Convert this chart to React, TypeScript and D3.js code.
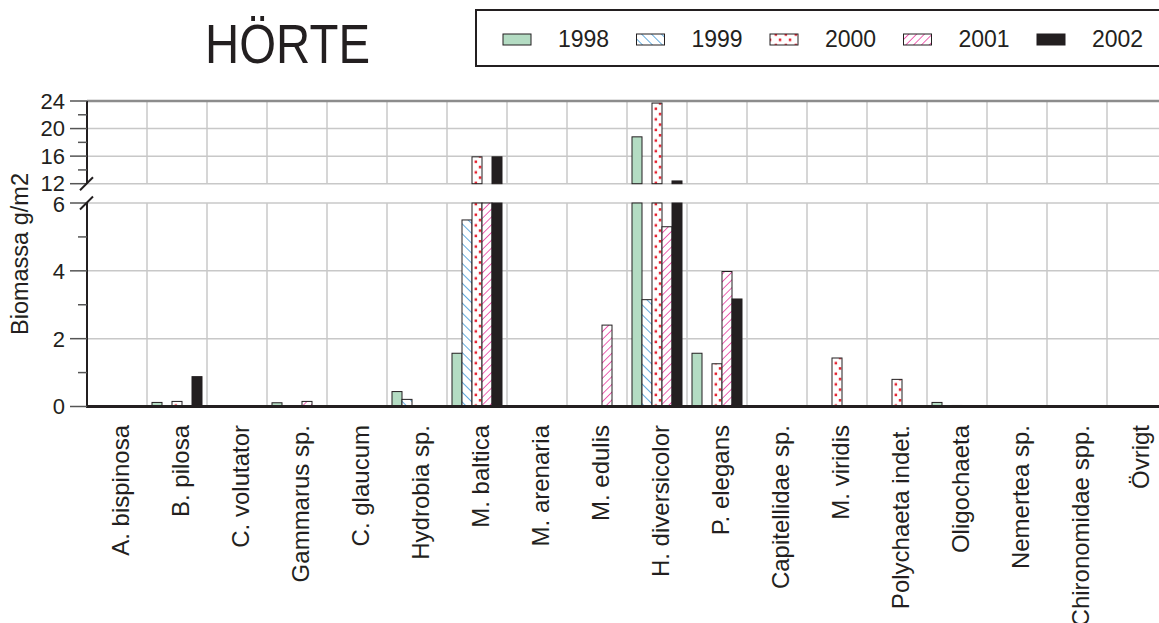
import React from "react";
import * as d3 from "d3";

const categories = [
  "A. bispinosa", "B. pilosa", "C. volutator", "Gammarus sp.", "C. glaucum",
  "Hydrobia sp.", "M. baltica", "M. arenaria", "M. edulis", "H. diversicolor",
  "P. elegans", "Capitellidae sp.", "M. viridis", "Polychaeta indet.",
  "Oligochaeta", "Nemertea sp.", "Chironomidae spp.", "Övrigt",
];
const years = ["1998", "1999", "2000", "2001", "2002"];
const v1998 = [0, 0.12, 0, 0.11, 0, 0.44, 1.57, 0, 0, 18.8, 1.57, 0, 0, 0, 0.12, 0, 0.02, 0];
const v1999 = [0, 0, 0, 0, 0, 0.21, 5.5, 0, 0, 3.15, 0, 0, 0, 0, 0, 0, 0, 0];
const v2000 = [0, 0.15, 0, 0, 0, 0, 15.9, 0, 0, 23.7, 1.26, 0, 1.43, 0.8, 0.03, 0, 0, 0];
const v2001 = [0, 0, 0, 0.15, 0, 0, 9, 0, 2.4, 5.3, 3.98, 0, 0, 0, 0, 0.02, 0, 0];
const v2002 = [0, 0.88, 0, 0, 0, 0, 15.9, 0, 0, 12.4, 3.17, 0.02, 0, 0, 0, 0, 0, 0];
const series = [v1998, v1999, v2000, v2001, v2002];
const lowerTicks = [0, 2, 4, 6];
const lowerMinor = [1, 3, 5];
const upperTicks = [12, 16, 20, 24];
const upperMinor = [14, 18, 22];
const title = "HÖRTE";
const yTitle = "Biomassa g/m2";

const W = 1159, H = 623;
const FONT = "Arial, Helvetica, 'Liberation Sans', 'Nimbus Sans', sans-serif";
const INK = "#231f20";
const GRID = "#c8c8c8";
const fills = ["#b4dcc3", "url(#p1999)", "url(#p2000)", "url(#p2001)", INK];

export default function App() {
  const x = d3.scaleBand<string>().domain(categories).range([87, 87 + 60 * categories.length]).padding(0);
  const xi = d3.scaleBand<string>().domain(years).range([5, 55]).padding(0);
  const yLow = d3.scaleLinear().domain([0, 6]).range([406.5, 203]);
  const yUp = d3.scaleLinear().domain([12, 24]).range([183.7, 101]);
  const left = 87;
  const right = W;

  const bars: React.ReactNode[] = [];
  series.forEach((vals, si) => {
    vals.forEach((v, ci) => {
      if (v <= 0) return;
      const bx = (x(categories[ci]) as number) + (xi(years[si]) as number);
      const bw = xi.bandwidth();
      const lowTop = yLow(Math.min(v, 6));
      bars.push(
        <rect key={`l${si}-${ci}`} x={bx} y={lowTop} width={bw} height={yLow(0) - lowTop}
          fill={fills[si]} stroke={INK} strokeWidth={1} />
      );
      if (v > 12) {
        const t = yUp(Math.min(v, 24));
        bars.push(
          <rect key={`u${si}-${ci}`} x={bx} y={t} width={bw} height={yUp(12) - t}
            fill={fills[si]} stroke={INK} strokeWidth={1} />
        );
      }
    });
  });

  const legendX0 = 503;
  const legendStep = 133.5;

  return (
    <svg width={W} height={H} style={{ position: "absolute", left: 0, top: 0, background: "#fff" }}
      fontFamily={FONT}>
      <defs>
        <pattern id="p1999" patternUnits="userSpaceOnUse" width={7} height={7} patternTransform="rotate(-45)">
          <rect width={7} height={7} fill="#fff" />
          <line x1={0} y1={0} x2={0} y2={7} stroke="#2f8fd4" strokeWidth={1.5} />
        </pattern>
        <pattern id="p2001" patternUnits="userSpaceOnUse" width={5.5} height={5.5} patternTransform="rotate(45)">
          <rect width={5.5} height={5.5} fill="#fff" />
          <line x1={0} y1={0} x2={0} y2={5.5} stroke="#e8309a" strokeWidth={1.5} />
        </pattern>
        <pattern id="p2000" patternUnits="userSpaceOnUse" x={2} y={0} width={10} height={10.6}>
          <rect width={10} height={10.6} fill="#fff" />
          <rect x={2.6} y={1.5} width={2.5} height={2.5} fill="#e5202e" />
          <rect x={6.8} y={6.8} width={2.5} height={2.5} fill="#e5202e" />
        </pattern>
      </defs>

      {/* title */}
      <text x={205} y={63} fontSize={56} fill={INK} textLength={165} lengthAdjust="spacingAndGlyphs">{title}</text>

      {/* legend */}
      <rect x={476} y={10} width={W} height={56} fill="#fff" stroke={INK} strokeWidth={2} />
      {years.map((yr, i) => (
        <g key={yr} transform={`translate(${legendX0 + i * legendStep},0)`}>
          <rect x={0} y={34} width={28} height={11} fill={fills[i]} stroke={INK} strokeWidth={1} />
          <text x={55} y={47} fontSize={23} fill={INK}>{yr}</text>
        </g>
      ))}

      {/* horizontal gridlines */}
      {upperTicks.filter(t => t !== 24).map(t => (
        <line key={`gu${t}`} x1={left} x2={right} y1={yUp(t)} y2={yUp(t)} stroke={GRID} strokeWidth={1.5} />
      ))}
      {lowerTicks.filter(t => t !== 0).map(t => (
        <line key={`gl${t}`} x1={left} x2={right} y1={yLow(t)} y2={yLow(t)} stroke={GRID} strokeWidth={1.5} />
      ))}
      {/* vertical gridlines */}
      {categories.slice(1).map(c => (
        <g key={`v${c}`}>
          <line x1={x(c)} x2={x(c)} y1={yUp(24)} y2={yUp(12)} stroke={GRID} strokeWidth={1.5} />
          <line x1={x(c)} x2={x(c)} y1={yLow(6)} y2={yLow(0)} stroke={GRID} strokeWidth={1.5} />
        </g>
      ))}
      <line x1={left} x2={right} y1={yUp(24)} y2={yUp(24)} stroke="#8c8c8c" strokeWidth={2.5} />

      {bars}

      {/* baseline */}
      <line x1={left - 1} x2={right} y1={yLow(0)} y2={yLow(0)} stroke={INK} strokeWidth={3} />

      {/* y axis */}
      <line x1={left} x2={left} y1={yUp(24)} y2={yUp(12)} stroke={INK} strokeWidth={2} />
      <line x1={left} x2={left} y1={yLow(6)} y2={yLow(0)} stroke={INK} strokeWidth={2} />
      {upperTicks.map(t => (
        <g key={`tu${t}`}>
          <line x1={70} x2={left} y1={yUp(t)} y2={yUp(t)} stroke="#555" strokeWidth={1.5} />
          <text x={65} y={yUp(t) - (t === 12 ? 1 : 0)} dy="0.36em" textAnchor="end" fontSize={22} fill={INK}>{t}</text>
        </g>
      ))}
      {upperMinor.map(t => (
        <line key={`mu${t}`} x1={78} x2={left} y1={yUp(t)} y2={yUp(t)} stroke="#555" strokeWidth={1.5} />
      ))}
      {lowerTicks.map(t => (
        <g key={`tl${t}`}>
          <line x1={70} x2={left} y1={yLow(t)} y2={yLow(t)} stroke="#555" strokeWidth={1.5} />
          <text x={65} y={yLow(t) + (t === 6 ? 1 : 0)} dy="0.36em" textAnchor="end" fontSize={22} fill={INK}>{t}</text>
        </g>
      ))}
      {lowerMinor.map(t => (
        <line key={`ml${t}`} x1={78} x2={left} y1={yLow(t)} y2={yLow(t)} stroke="#555" strokeWidth={1.5} />
      ))}
      {/* break marks */}
      <line x1={80} y1={yUp(12) + 6.5} x2={93} y2={yUp(12) - 6.5} stroke={INK} strokeWidth={2} />
      <line x1={80} y1={yLow(6) + 6.5} x2={93} y2={yLow(6) - 6.5} stroke={INK} strokeWidth={2} />

      {/* y title */}
      <text transform={`translate(28,335) rotate(-90)`} textAnchor="start" fontSize={23.5} fill={INK}>{yTitle}</text>

      {/* x labels */}
      {categories.map(c => (
        <text key={`xl${c}`} transform={`translate(${(x(c) as number) + x.bandwidth() / 2 + 3},425) rotate(-90)`}
          textAnchor="end" dy="0.36em" fontSize={24} fill={INK}>{c}</text>
      ))}
    </svg>
  );
}
